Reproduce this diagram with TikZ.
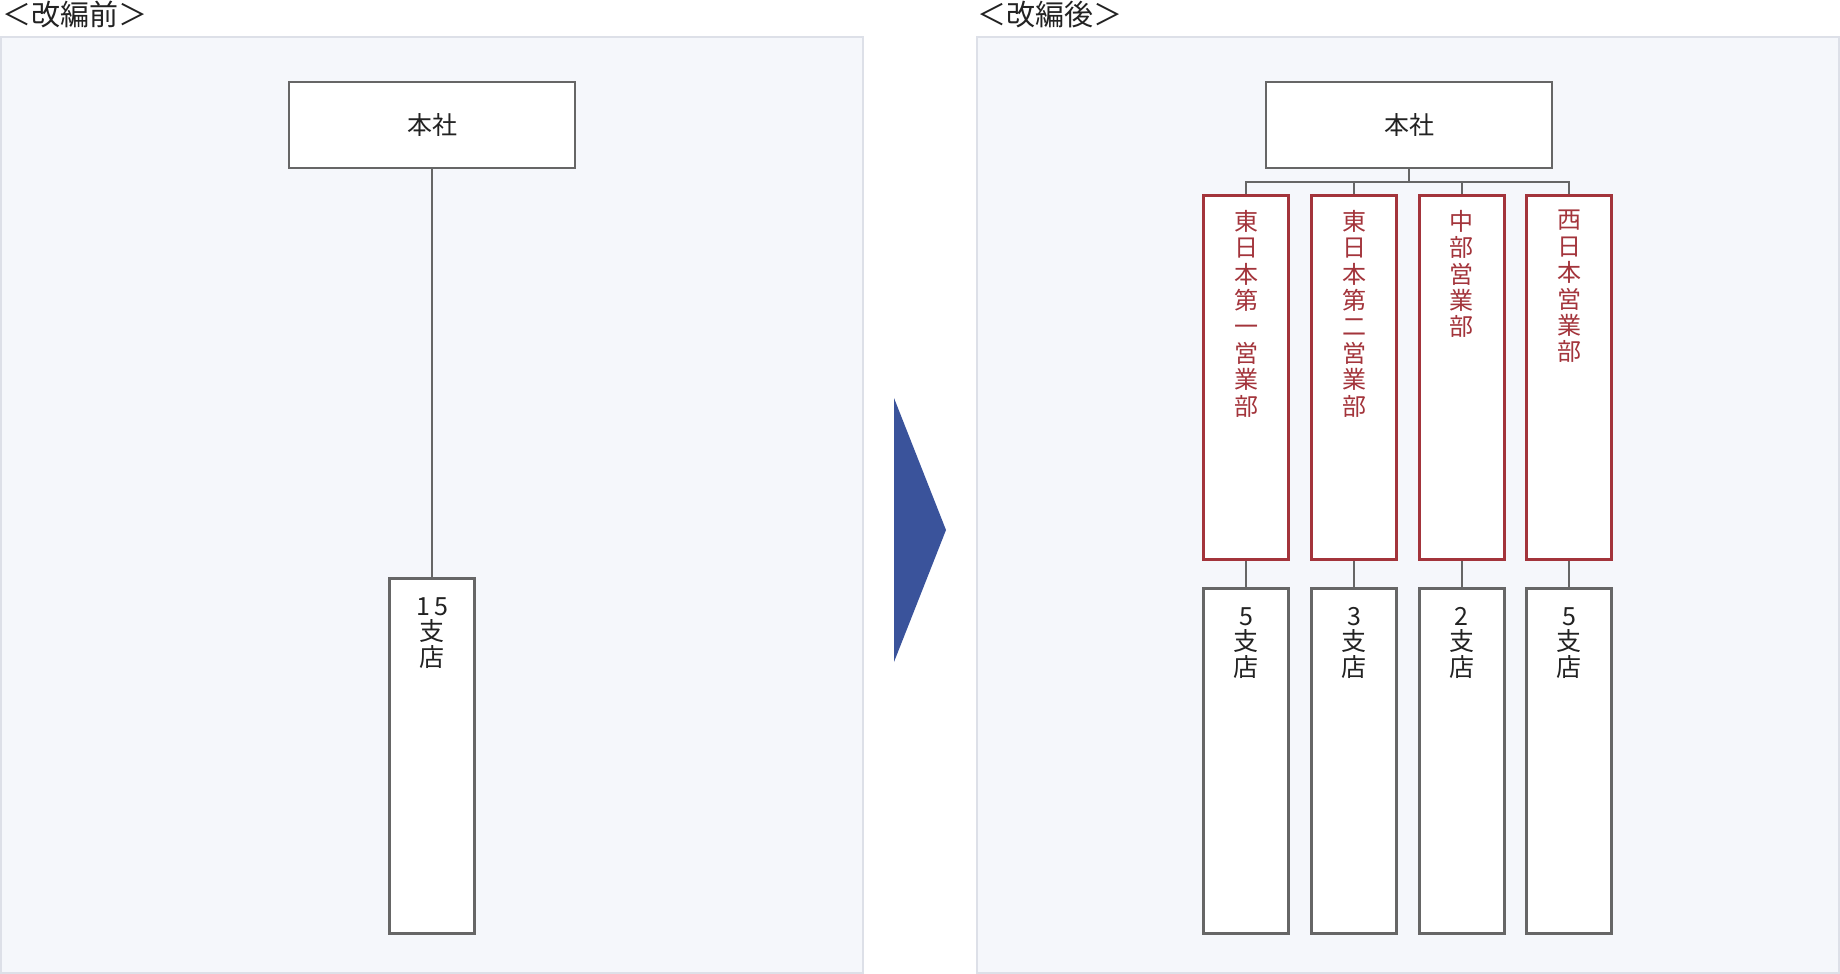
\documentclass[tikz,border=0pt]{standalone}
\usepackage{fontspec}
\setmainfont{Noto Sans CJK JP}
\definecolor{linegray}{HTML}{666666}
\definecolor{boxred}{HTML}{A3343B}
\definecolor{arrowblue}{HTML}{3A539B}
\definecolor{panelbg}{HTML}{F5F7FB}
\definecolor{panelline}{HTML}{DDE0E8}
\definecolor{txt}{HTML}{222222}
\begin{document}
\begin{tikzpicture}[x=1pt,y=-1pt,
  panel/.style={fill=panelbg,draw=panelline,line width=1.5pt},
  hqbox/.style={draw=linegray,fill=white,line width=2pt,minimum width=286pt,minimum height=86pt,inner sep=0pt,text=txt,font=\fontsize{25}{27}\selectfont},
  divbox/.style={draw=boxred,fill=white,line width=3pt,minimum width=85pt,minimum height=364pt,inner sep=0pt},
  brbox/.style={draw=linegray,fill=white,line width=3pt,minimum width=85pt,minimum height=345pt,inner sep=0pt},
  redtxt/.style={anchor=north,yshift=-16pt,inner sep=0pt,align=center,text=boxred,font=\fontsize{24}{26.4}\selectfont},
  graytxt/.style={anchor=north,yshift=-20pt,inner sep=0pt,align=center,text=txt,font=\fontsize{25}{25.5}\selectfont},
  conn/.style={draw=linegray,line width=2pt},
  title/.style={anchor=base west,inner sep=0pt,text=txt,font=\fontsize{29}{31}\selectfont}
]
\useasboundingbox (0,0) rectangle (1840,974);
% panels
\path[panel] (0.75,37) rectangle (863,973);
\path[panel] (977,37) rectangle (1839,973);
% titles
\node[title] (t1) at (2,26) {＜改編前＞};
\node[title] (t2) at (977,26) {＜改編後＞};
% arrow
\fill[arrowblue] (894,398) -- (946,530) -- (894,662) -- cycle;
% before
\node[hqbox] (hq1) at (432,125) {本社};
\node[brbox,minimum height=355pt,label={[graytxt]north:{1\,5\\支\\店}}] (b0) at (432,756) {};
\draw[conn] (hq1.south) -- (b0.north);
% after
\node[hqbox] (hq2) at (1409,125) {本社};
\node[divbox,label={[redtxt]north:{東\\日\\本\\第\\一\\営\\業\\部}}] (d1) at (1246,377.5) {};
\node[divbox,label={[redtxt]north:{東\\日\\本\\第\\二\\営\\業\\部}}] (d2) at (1354,377.5) {};
\node[divbox,label={[redtxt]north:{中\\部\\営\\業\\部}}] (d3) at (1461.7,377.5) {};
\node[divbox,label={[redtxt]north:{西\\日\\本\\営\\業\\部}}] (d4) at (1569.2,377.5) {};
\node[brbox,label={[graytxt]north:{5\\支\\店}}] (s1) at (1246,761) {};
\node[brbox,label={[graytxt]north:{3\\支\\店}}] (s2) at (1354,761) {};
\node[brbox,label={[graytxt]north:{2\\支\\店}}] (s3) at (1461.7,761) {};
\node[brbox,label={[graytxt]north:{5\\支\\店}}] (s4) at (1569.2,761) {};
\foreach \d in {d1,d2,d3,d4}{
  \draw[conn] (hq2.south) -- ++(0,13) -| (\d.north);
}
\foreach \d/\s in {d1/s1,d2/s2,d3/s3,d4/s4}{
  \draw[conn] (\d.south) -- (\s.north);
}
\end{tikzpicture}
\end{document}
